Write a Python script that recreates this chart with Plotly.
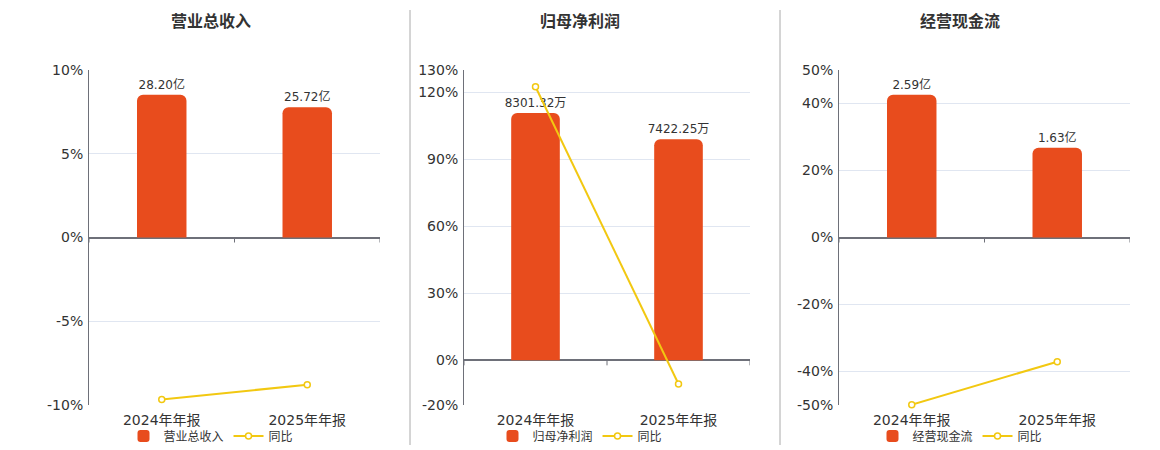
import plotly.graph_objects as go

W, H = 1160, 450
OFF = 8  # page body margin offset compensation

categories = ["2024年年报", "2025年年报"]
titles = ["营业总收入", "归母净利润", "经营现金流"]

revenue = [28.20, 25.72]
revenue_labels = ["28.20亿", "25.72亿"]
revenue_yoy = [-9.67, -8.79]

profit = [8301.32, 7422.25]
profit_labels = ["8301.32万", "7422.25万"]
profit_yoy = [122.5, -10.59]

cashflow = [2.59, 1.63]
cashflow_labels = ["2.59亿", "1.63亿"]
cashflow_yoy = [-49.9, -37.07]

pct_ranges = [[-10, 10], [-20, 130], [-50, 50]]
pct_ticks = [[-10, -5, 0, 5, 10], [-20, 0, 30, 60, 90, 120, 130], [-50, -40, -20, 0, 20, 40, 50]]

bars = [revenue, profit, cashflow]
bar_labels = [revenue_labels, profit_labels, cashflow_labels]
yoys = [revenue_yoy, profit_yoy, cashflow_yoy]

BAR_COLOR = "#E84C1D"
LINE_COLOR = "#F2C811"
TEXT = "#333333"
AXIS = "#6E7079"
GRID = "#E0E6F1"
FONT = "DejaVu Sans, Noto Sans CJK SC, sans-serif"


def px_x(p):
    return (p - OFF) / W


def px_y(p):
    return (H - (p - OFF)) / H


x_px = [(89, 380), (464, 750), (839, 1130)]
y_dom = [px_y(405), px_y(70)]
center_px = [211, 580, 960]

fig = go.Figure()
layout = dict(
    width=W, height=H, autosize=False,
    margin=dict(l=0, r=0, t=0, b=0, autoexpand=False),
    paper_bgcolor="white", plot_bgcolor="white",
    font=dict(family=FONT, color=TEXT, size=12),
    showlegend=True, barcornerradius=6,
)
shapes = []
annotations = []

for i in range(3):
    xn = "x" if i == 0 else f"x{i + 1}"
    xa = "xaxis" if i == 0 else f"xaxis{i + 1}"
    ybar_n = 2 * i + 1
    ypct_n = 2 * i + 2
    ybar = "y" if ybar_n == 1 else f"y{ybar_n}"
    ypct = f"y{ypct_n}"
    ybar_a = "yaxis" if ybar_n == 1 else f"yaxis{ybar_n}"
    ypct_a = f"yaxis{ypct_n}"
    leg = "legend" if i == 0 else f"legend{i + 1}"

    lo, hi = pct_ranges[i]
    bhi = max(bars[i]) / 0.852
    blo = bhi * lo / hi

    fig.add_trace(go.Bar(
        x=categories, y=bars[i], name=titles[i], xaxis=xn, yaxis=ybar,
        marker=dict(color=BAR_COLOR, line=dict(width=0)), width=0.34,
        text=bar_labels[i], textposition="outside", cliponaxis=False,
        constraintext="none",
        textfont=dict(size=12, color=TEXT), legend=leg, hoverinfo="skip",
    ))
    fig.add_trace(go.Scatter(
        x=categories, y=yoys[i], name="同比", xaxis=xn, yaxis=ypct,
        mode="lines+markers", line=dict(color=LINE_COLOR, width=2),
        marker=dict(symbol="circle", size=6, color="white",
                    line=dict(color=LINE_COLOR, width=1.5)),
        cliponaxis=False, legend=leg, hoverinfo="skip",
    ))

    layout[xa] = dict(
        domain=[px_x(x_px[i][0]), px_x(x_px[i][1])], anchor=ybar, type="category",
        showgrid=False, showline=False, zeroline=False,
        ticks="outside", ticklen=2, tickcolor="rgba(0,0,0,0)",
        tickfont=dict(size=14, color=TEXT), range=[-0.5, 1.5],
        automargin=False,
    )
    layout[ybar_a] = dict(
        domain=list(y_dom), anchor=xn, range=[blo, bhi],
        showgrid=False, showticklabels=False, showline=False,
        zeroline=True, zerolinecolor=AXIS, zerolinewidth=1.5,
        automargin=False,
    )
    layout[ypct_a] = dict(
        overlaying=ybar, anchor=xn, side="left", range=[lo, hi],
        tickmode="array", tickvals=pct_ticks[i],
        ticktext=[f"{v}%" for v in pct_ticks[i]],
        showgrid=True, gridcolor=GRID, gridwidth=1,
        showline=True, linecolor=AXIS, linewidth=1,
        zeroline=False, ticks="outside", ticklen=2, tickcolor="rgba(0,0,0,0)",
        tickfont=dict(size=14, color=TEXT), automargin=False,
    )
    layout[leg] = dict(
        orientation="h", x=px_x(center_px[i]), xanchor="center",
        y=px_y(436), yanchor="middle",
        font=dict(size=12, color=TEXT), bgcolor="rgba(0,0,0,0)",
        itemwidth=30, tracegroupgap=0,
    )

    for b in [-0.5, 0.5, 1.5]:
        shapes.append(dict(
            type="line", xref=xn, yref=ybar, x0=b, x1=b,
            ysizemode="pixel", yanchor=0, y0=0, y1=-5,
            line=dict(color=AXIS, width=1),
        ))

    annotations.append(dict(
        text=f"<b>{titles[i]}</b>", xref="paper", yref="paper",
        x=px_x(center_px[i]), y=px_y(22), xanchor="center", yanchor="middle",
        showarrow=False, font=dict(size=16, color=TEXT, family=FONT),
    ))

for sx in [410, 780]:
    shapes.append(dict(
        type="line", xref="paper", yref="paper",
        x0=px_x(sx), x1=px_x(sx), y0=px_y(445), y1=px_y(10),
        line=dict(color="#AAAAAA", width=1),
    ))

layout["shapes"] = shapes
layout["annotations"] = annotations
fig.update_layout(**layout)

fig.write_html("out.html")
